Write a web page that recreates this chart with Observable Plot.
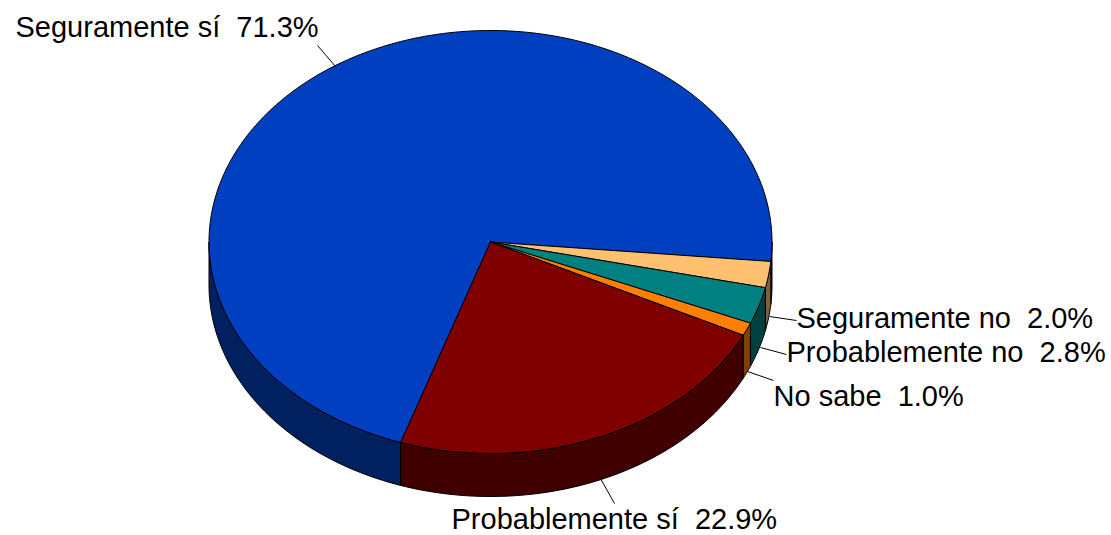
<!DOCTYPE html>
<html>
<head>
<meta charset="utf-8">
<style>html,body{margin:0;padding:0;background:#fff}svg{display:block}</style>
<script src="https://cdn.jsdelivr.net/npm/d3@7"></script>
<script src="https://cdn.jsdelivr.net/npm/@observablehq/plot@0.6"></script>
</head>
<body>
<script>
// Data, clockwise in drawing order
const categories = ["Seguramente sí", "Seguramente no", "Probablemente no", "No sabe", "Probablemente sí"];
const values = [71.3, 2.0, 2.8, 1.0, 22.9];
// Styles
const topColors  = ["#0040c0", "#ffc070", "#008080", "#ff8000", "#800000"];
const sideColors = ["#002060", "#806038", "#004040", "#804000", "#400000"];
// Layout (pixel coordinates, same as the x/y scales)
const pie = {cx: 490, cy: 241.5, rx: 281.5, ry: 211.5, depth: 43, startDeg: 198.6};
const labelX = [15, 796, 786, 773, 451];
const labelY = [36.5, 327.5, 361.5, 405, 528];
const leaderFromX = [335, 769, 760, 747, 600];
const leaderFromY = [66, 316, 347, 371, 478];
const leaderToX = [317, 796, 786, 773, 614];
const leaderToY = [45, 320, 354, 380, 503];

const total = d3.sum(values);
const point = (deg, drop = 0) => {
  const a = deg * Math.PI / 180;
  return {x: pie.cx + pie.rx * Math.sin(a), y: pie.cy - pie.ry * Math.cos(a) + drop};
};
const arc = (a0, a1, drop = 0) => {
  const n = Math.max(2, Math.ceil(Math.abs(a1 - a0)));
  return d3.range(n + 1).map(i => point(a0 + (a1 - a0) * i / n, drop));
};

// Slice angles accumulated from the values
let acc = pie.startDeg;
const slices = values.map((v, i) => {
  const a0 = acc; acc += v / total * 360;
  return {i, a0, a1: acc};
});

const topRows = slices.flatMap(s =>
  [{x: pie.cx, y: pie.cy}, ...arc(s.a0, s.a1), {x: pie.cx, y: pie.cy}]
    .map(p => ({...p, id: s.i, color: topColors[s.i]})));

// Visible wall: the part of each slice between 90° and 270° (mod 360)
const sideRows = [];
slices.forEach(s => {
  [-360, 0, 360].forEach(k => {
    const a0 = Math.max(s.a0 + k, 90), a1 = Math.min(s.a1 + k, 270);
    if (a1 > a0) {
      const id = s.i + "/" + k;
      [...arc(a0, a1), ...arc(a1, a0, pie.depth), point(a0)]
        .forEach(p => sideRows.push({...p, id, color: sideColors[s.i]}));
    }
  });
});

const labels = categories.map((c, i) => ({
  text: c + "\u00a0\u00a0" + values[i].toFixed(1) + "%", x: labelX[i], y: labelY[i]
}));
const leaders = categories.map((c, i) => ({
  x1: leaderFromX[i], y1: leaderFromY[i], x2: leaderToX[i], y2: leaderToY[i]
}));

const chart = Plot.plot({
  width: 1111, height: 535,
  margin: 0,
  style: {background: "#fff"},
  x: {domain: [0, 1111], range: [0, 1111], axis: null},
  y: {domain: [0, 535], range: [0, 535], axis: null},
  color: {type: "identity"},
  marks: [
    Plot.line(sideRows, {x: "x", y: "y", z: "id", fill: "color", stroke: "#000", strokeWidth: 1, curve: "linear"}),
    Plot.line(topRows, {x: "x", y: "y", z: "id", fill: "color", stroke: "#000", strokeWidth: 1, curve: "linear"}),
    Plot.link(leaders, {x1: "x1", y1: "y1", x2: "x2", y2: "y2", stroke: "#000", strokeWidth: 1}),
    Plot.text(labels, {
      x: "x", y: "y", text: "text", textAnchor: "start", lineAnchor: "bottom",
      fontFamily: "Liberation Sans", fontSize: 29, fill: "#000"
    })
  ]
});
document.body.appendChild(chart);
</script>
</body>
</html>
